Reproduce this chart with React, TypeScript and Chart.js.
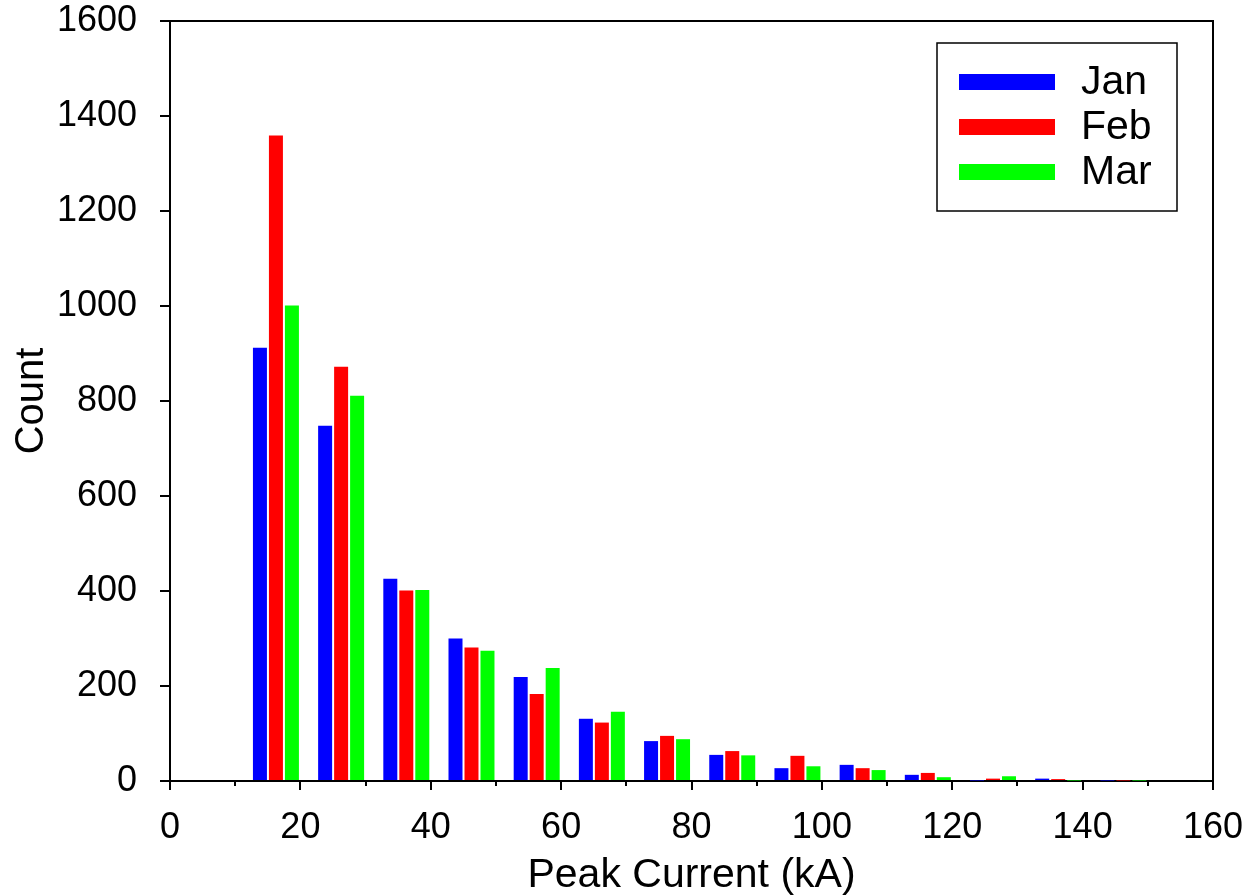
import { useEffect, useRef } from 'react';
import { Chart, registerables } from 'chart.js';

Chart.register(...registerables);

// Peak current bins (10-20 kA ... 150-160 kA), positions of the bar groups on the kA axis
const binCenters = [16.25, 26.25, 36.25, 46.25, 56.25, 66.25, 76.25, 86.25, 96.25, 106.25, 116.25, 126.25, 136.25, 146.25, 156.25];
const seriesLabels = ['Jan', 'Feb', 'Mar'];
const seriesColors = ['#0000FF', '#FF0000', '#00FF00'];
const janCounts = [912, 748, 426, 300, 219, 131, 84, 55, 27, 34, 13, 1, 5, 1, 0];
const febCounts = [1359, 872, 401, 281, 183, 123, 95, 63, 53, 27, 17, 5, 4, 1, 0];
const marCounts = [1001, 811, 402, 274, 238, 146, 88, 54, 31, 23, 8, 10, 1, 1, 2];
const xTickValues = [0, 20, 40, 60, 80, 100, 120, 140, 160];
const yTickValues = [0, 200, 400, 600, 800, 1000, 1200, 1400, 1600];

const FONT = '"Liberation Sans", Arial, Helvetica, sans-serif';

const framePlugin = {
  id: 'frameAndLegend',
  afterDraw(chart: any) {
    const { ctx, chartArea } = chart;
    const xScale = chart.scales.x;
    ctx.save();
    // top and right frame lines
    ctx.strokeStyle = '#000';
    ctx.lineWidth = 2;
    ctx.beginPath();
    ctx.moveTo(chartArea.left, chartArea.top);
    ctx.lineTo(chartArea.right, chartArea.top);
    ctx.lineTo(chartArea.right, chartArea.bottom);
    ctx.stroke();
    // minor ticks on x axis
    for (let v = 10; v < 160; v += 20) {
      const px = Math.round(xScale.getPixelForValue(v));
      ctx.beginPath();
      ctx.moveTo(px, chartArea.bottom);
      ctx.lineTo(px, chartArea.bottom + 5);
      ctx.stroke();
    }
    // legend box
    const w = 240;
    const h = 168;
    const right = chartArea.right - 36;
    const top = chartArea.top + 22;
    const left = right - w;
    ctx.lineWidth = 1.5;
    ctx.strokeRect(left, top, w, h);
    chart.data.datasets.forEach((ds: any, i: number) => {
      const cy = top + 39 + i * 45;
      ctx.fillStyle = ds.backgroundColor;
      ctx.fillRect(left + 22, cy - 8, 96, 16);
      ctx.fillStyle = '#000';
      ctx.font = `41px ${FONT}`;
      ctx.textBaseline = 'middle';
      ctx.textAlign = 'left';
      ctx.fillText(ds.label, left + 144, cy + 1);
    });
    ctx.restore();
  },
};

export default function App() {
  const canvasRef = useRef<HTMLCanvasElement | null>(null);

  useEffect(() => {
    if (!canvasRef.current) return;
    const allCounts = [janCounts, febCounts, marCounts];
    const chart = new Chart(canvasRef.current, {
      type: 'bar',
      data: {
        datasets: seriesLabels.map((label, si) => ({
          label,
          data: binCenters.map((x, i) => ({ x, y: allCounts[si][i] })),
          backgroundColor: seriesColors[si],
          borderWidth: 0,
          categoryPercentage: 0.736,
          barPercentage: 0.875,
        })),
      },
      options: {
        animation: false,
        responsive: false,
        devicePixelRatio: 1,
        layout: { padding: { left: 0, top: 21, right: 37, bottom: 0 } },
        plugins: {
          legend: { display: false },
          tooltip: { enabled: false },
        },
        scales: {
          x: {
            type: 'linear',
            min: 0,
            max: 160,
            offset: false,
            afterFit: (scale: any) => {
              scale.height = 115;
              scale.paddingLeft = 0;
              scale.paddingRight = 0;
            },
            afterBuildTicks: (scale: any) => {
              scale.ticks = xTickValues.map((v) => ({ value: v }));
            },
            grid: {
              offset: false,
              drawOnChartArea: false,
              drawTicks: true,
              tickLength: 9,
              color: '#000',
              lineWidth: 2,
            },
            border: { display: true, color: '#000', width: 2 },
            ticks: {
              autoSkip: false,
              maxRotation: 0,
              padding: 20,
              color: '#000',
              callback: (v: any) => String(v),
              font: { family: FONT, size: 36, lineHeight: 1 },
            },
            title: {
              display: true,
              text: 'Peak Current (kA)',
              color: '#000',
              font: { family: FONT, size: 41, lineHeight: 1 },
              padding: { top: 0, bottom: 0 },
            },
          },
          y: {
            type: 'linear',
            min: 0,
            max: 1600,
            afterFit: (scale: any) => {
              scale.width = 170;
              scale.paddingTop = 0;
              scale.paddingBottom = 0;
            },
            afterBuildTicks: (scale: any) => {
              scale.ticks = yTickValues.map((v) => ({ value: v }));
            },
            grid: {
              drawOnChartArea: false,
              drawTicks: true,
              tickLength: 10,
              color: '#000',
              lineWidth: 2,
            },
            border: { display: true, color: '#000', width: 2 },
            ticks: {
              padding: 23,
              color: '#000',
              callback: (v: any) => String(v),
              font: { family: FONT, size: 36, lineHeight: 1 },
            },
            title: {
              display: true,
              text: 'Count',
              color: '#000',
              font: { family: FONT, size: 40, lineHeight: 1 },
              padding: { top: 12, bottom: 0 },
            },
          },
        },
      } as any,
      plugins: [framePlugin],
    });
    return () => chart.destroy();
  }, []);

  return (
    <div style={{ position: 'absolute', left: 0, top: 0, width: 1250, height: 896, background: '#fff' }}>
      <canvas ref={canvasRef} width={1250} height={896} style={{ width: 1250, height: 896, display: 'block' }} />
    </div>
  );
}
